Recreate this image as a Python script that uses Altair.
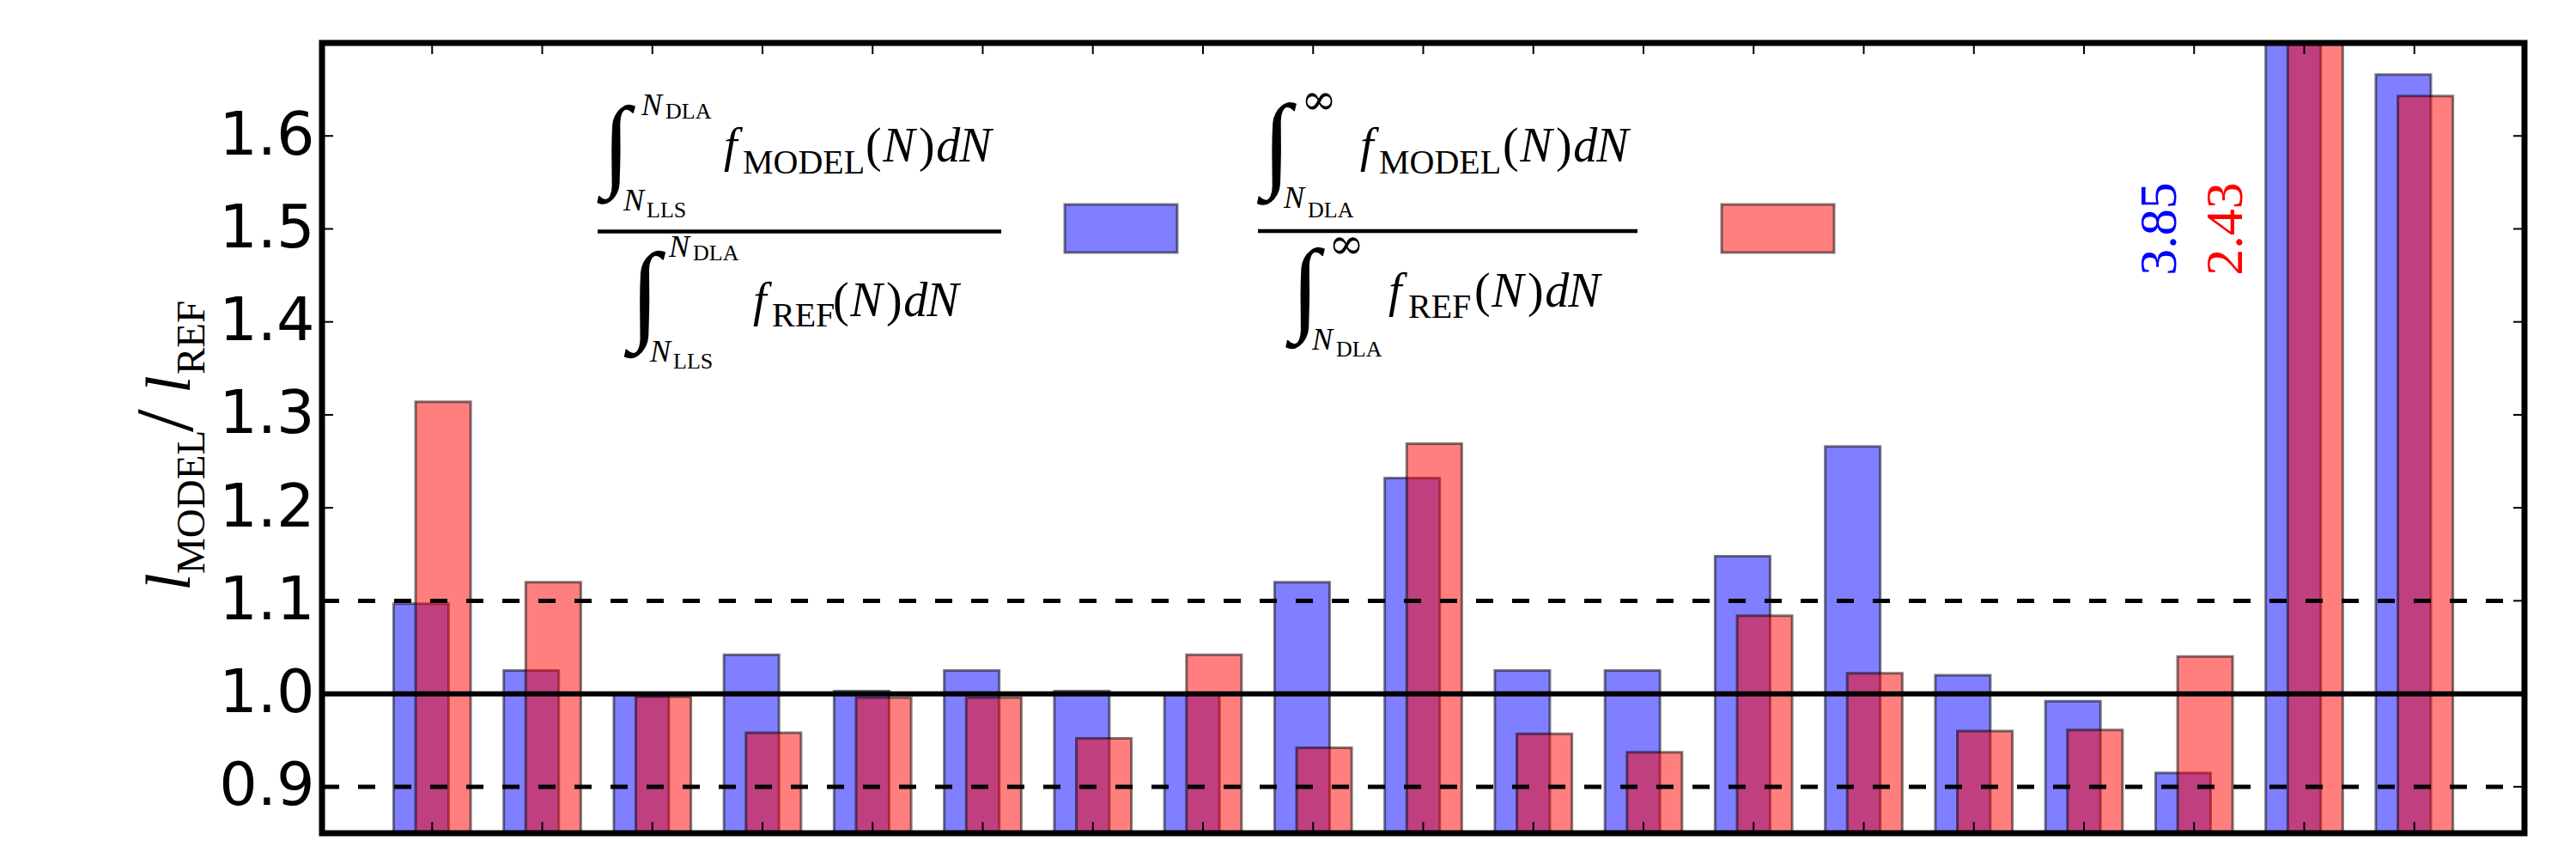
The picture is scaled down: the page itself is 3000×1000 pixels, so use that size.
import altair as alt
import pandas as pd

# ---------------- data ----------------
groups = list(range(1, 20))
# blue: int_{N_LLS}^{N_DLA} f_MODEL dN / int_{N_LLS}^{N_DLA} f_REF dN
ratio_lls_dla = [1.097, 1.025, 1.000, 1.042, 1.003, 1.025, 1.003, 1.000, 1.120, 1.232,
                 1.025, 1.025, 1.148, 1.266, 1.020, 0.992, 0.915, 3.85, 1.666]
# red: int_{N_DLA}^{inf} f_MODEL dN / int_{N_DLA}^{inf} f_REF dN
ratio_dla_inf = [1.314, 1.120, 0.997, 0.958, 0.996, 0.996, 0.952, 1.042, 0.942, 1.269,
                 0.957, 0.937, 1.084, 1.022, 0.960, 0.961, 1.040, 2.43, 1.643]
y_tick_values = [0.9, 1.0, 1.1, 1.2, 1.3, 1.4, 1.5, 1.6]
dashed_levels = [0.9, 1.1]
solid_levels = [1.0]
clipped_group = 18

# ---------------- layout ----------------
W, H = 2565, 920
OX, OY = 375, 50            # page position of the plot area's top-left corner
SERIF = "Liberation Serif"

xs = alt.Scale(domain=[0, 20], nice=False, zero=False)
ys = alt.Scale(domain=[0.85, 1.70], nice=False, zero=False)
yaxis = alt.Axis(values=y_tick_values, format=".1f", labelFont="DejaVu Sans",
                 labelFontSize=70, labelColor="black", labelPadding=9, ticks=False,
                 tickSize=0, domain=False, grid=False, title=None, labelOverlap=False,
                 labelFlush=False)

bars_df = pd.DataFrame({"g": groups, "blue": ratio_lls_dla, "red": ratio_dla_inf})

bar_style = dict(fillOpacity=0.5, stroke="black", strokeOpacity=0.5, strokeWidth=3, clip=True)

blue = alt.Chart(bars_df).mark_rect(fill="#0000ff", **bar_style).transform_calculate(
    x0="datum.g - 0.35", x1="datum.g + 0.15"
).encode(
    x=alt.X("x0:Q", scale=xs, axis=None), x2="x1:Q",
    y=alt.Y("blue:Q", scale=ys, axis=yaxis), y2=alt.value(H + 20),
)

red = alt.Chart(bars_df).mark_rect(fill="#ff0000", **bar_style).transform_calculate(
    x0="datum.g - 0.15", x1="datum.g + 0.35"
).encode(
    x=alt.X("x0:Q", scale=xs, axis=None), x2="x1:Q",
    y=alt.Y("red:Q", scale=ys, axis=None), y2=alt.value(H + 20),
)

dashed = alt.Chart(pd.DataFrame({"lvl": dashed_levels})).mark_rule(
    color="black", strokeWidth=5, strokeDash=[20, 22]
).encode(y=alt.Y("lvl:Q", scale=ys, axis=None), x=alt.value(0), x2=alt.value(W))

solid = alt.Chart(pd.DataFrame({"lvl": solid_levels})).mark_rule(
    color="black", strokeWidth=6
).encode(y=alt.Y("lvl:Q", scale=ys, axis=None), x=alt.value(0), x2=alt.value(W))

TL = 13
gx = pd.DataFrame({"g": groups})
gy = pd.DataFrame({"v": y_tick_values})
top_ticks = alt.Chart(gx).mark_rule(color="black", strokeWidth=2).encode(
    x=alt.X("g:Q", scale=xs, axis=None), y=alt.value(0), y2=alt.value(TL))
bottom_ticks = alt.Chart(gx).mark_rule(color="black", strokeWidth=2).encode(
    x=alt.X("g:Q", scale=xs, axis=None), y=alt.value(H - TL), y2=alt.value(H))
left_ticks = alt.Chart(gy).mark_rule(color="black", strokeWidth=2).encode(
    y=alt.Y("v:Q", scale=ys, axis=None), x=alt.value(0), x2=alt.value(TL))
right_ticks = alt.Chart(gy).mark_rule(color="black", strokeWidth=2).encode(
    y=alt.Y("v:Q", scale=ys, axis=None), x=alt.value(W - TL), x2=alt.value(W))

spine = alt.Chart(alt.Data(values=[{}])).mark_rect(
    fillOpacity=0, stroke="black", strokeWidth=7
).encode(x=alt.value(0), x2=alt.value(W), y=alt.value(0), y2=alt.value(H))

# values of the clipped bars, written next to them
ann_df = pd.DataFrame({
    "x": [clipped_group - 1.31, clipped_group - 0.71],
    "y": [1.5, 1.5],
    "label": [f"{ratio_lls_dla[clipped_group - 1]:.2f}", f"{ratio_dla_inf[clipped_group - 1]:.2f}"],
    "c": ["#0000ff", "#ff0000"],
})
ann = alt.Chart(ann_df).mark_text(angle=270, font=SERIF, fontSize=62, align="center",
                                  baseline="middle").encode(
    x=alt.X("x:Q", scale=xs, axis=None), y=alt.Y("y:Q", scale=ys, axis=None),
    text="label:N", color=alt.Color("c:N", scale=None))

# ---------------- math-style legend and y title built from text pieces ----------------
# advance widths (in em) of the Computer Modern glyphs of the original, used for spacing
CM = {"(": .389, ")": .389, "N": .803, "d": .52}

rows = []


def piece(text, style, fs, X, Y):
    rows.append({"t": text, "s": style, "fs": fs, "px": X - OX, "py": Y - OY})


def n_dn(X, Y, fs=56, cm=52):
    for ch, st in [("(", "normal"), ("N", "italic"), (")", "normal"), ("d", "italic"),
                   ("N", "italic")]:
        piece(ch, st, fs, X, Y)
        X += CM[ch] * cm


# fraction 1 numerator
piece("N", "italic", 36, 747, 134); piece("DLA", "normal", 26, 775, 138)
piece("N", "italic", 36, 726, 245); piece("LLS", "normal", 26, 753, 253)
piece("f", "italic", 56, 843, 188); piece("MODEL", "normal", 40, 865, 202); n_dn(1008, 188)
# fraction 1 denominator
piece("N", "italic", 36, 779, 299); piece("DLA", "normal", 26, 807, 303)
piece("N", "italic", 36, 757, 421); piece("LLS", "normal", 26, 784, 429)
piece("f", "italic", 56, 877, 368); piece("REF", "normal", 40, 899, 380); n_dn(970, 368)
# fraction 2 numerator
piece("N", "italic", 36, 1495, 242); piece("DLA", "normal", 26, 1523, 253)
piece("f", "italic", 56, 1584, 188); piece("MODEL", "normal", 40, 1606, 202); n_dn(1750, 188)
# fraction 2 denominator
piece("N", "italic", 36, 1528, 407); piece("DLA", "normal", 26, 1556, 415)
piece("f", "italic", 56, 1617, 357); piece("REF", "normal", 40, 1640, 370); n_dn(1717, 357)

pieces = pd.DataFrame(rows)

sym_rows = []


def sym(text, fs, X, Y):
    sym_rows.append({"t": text, "fs": fs, "px": X - OX, "py": Y - OY})


sym("∫", 118, 718, 171); sym("∫", 128, 751, 345)
sym("∫", 122, 1487, 169); sym("∫", 121, 1520, 338)
syms = pd.DataFrame(sym_rows)

inf_rows = [{"t": "∞", "fs": 50, "px": 1536 - OX, "py": 118 - OY},
            {"t": "∞", "fs": 50, "px": 1568 - OX, "py": 286 - OY}]
infs = pd.DataFrame(inf_rows)

title_rows = []


def tpiece(text, style, fs, X, Y):
    title_rows.append({"t": text, "s": style, "fs": fs, "px": X - OX, "py": Y - OY})


tpiece("l", "italic", 74, 221, 688)
tpiece("MODEL", "normal", 47, 238, 668)
tpiece("/", "normal", 96, 224, 503)
tpiece("l", "italic", 74, 221, 458)
tpiece("REF", "normal", 47, 238, 436)
title_df = pd.DataFrame(title_rows)

PX = alt.X("px:Q", scale=None, axis=None)
PY = alt.Y("py:Q", scale=None, axis=None)
FS = alt.Size("fs:Q", scale=None, legend=None)


def text_layer(df, style, angle=0):
    return alt.Chart(df).transform_filter(alt.datum.s == style).mark_text(
        font=SERIF, fontStyle=style, align="left", baseline="alphabetic", color="black",
        angle=angle
    ).encode(x=PX, y=PY, size=FS, text="t:N")


leg_it = text_layer(pieces, "italic")
leg_rg = text_layer(pieces, "normal")
tit_it = text_layer(title_df, "italic", 270)
tit_rg = text_layer(title_df, "normal", 270)

sym_layer = alt.Chart(syms).mark_text(font="DejaVu Sans", fontWeight=200, align="center",
                                      baseline="middle", color="black").encode(
    x=PX, y=PY, size=FS, text="t:N")
inf_layer = alt.Chart(infs).mark_text(font="DejaVu Serif", align="center",
                                      baseline="middle", color="black").encode(
    x=PX, y=PY, size=FS, text="t:N")

frac_df = pd.DataFrame({"x0": [696 - OX, 1465 - OX], "x1": [1166 - OX, 1907 - OX],
                        "y": [269.5 - OY, 269 - OY]})
frac = alt.Chart(frac_df).mark_rule(color="black", strokeWidth=4.5).encode(
    x=alt.X("x0:Q", scale=None, axis=None), x2="x1:Q", y=alt.Y("y:Q", scale=None, axis=None))

patch_df = pd.DataFrame({"x0": [1240 - OX, 2005 - OX], "x1": [1371 - OX, 2136 - OX],
                         "y0": [238 - OY, 238 - OY], "y1": [294 - OY, 294 - OY],
                         "c": ["#0000ff", "#ff0000"]})
patches = alt.Chart(patch_df).mark_rect(fillOpacity=0.5, stroke="black", strokeOpacity=0.5,
                                        strokeWidth=3).encode(
    x=alt.X("x0:Q", scale=None, axis=None), x2="x1:Q",
    y=alt.Y("y0:Q", scale=None, axis=None), y2="y1:Q",
    fill=alt.Fill("c:N", scale=None))

chart = alt.layer(
    blue, red, dashed, solid, top_ticks, bottom_ticks, left_ticks, right_ticks, spine,
    ann, leg_it, leg_rg, sym_layer, inf_layer, frac, patches, tit_it, tit_rg
).resolve_scale(x="independent", y="independent", size="independent",
                color="independent", fill="independent").properties(
    width=W, height=H,
    autosize=alt.AutoSizeParams(type="none"),
    padding={"left": OX - 8, "top": OY - 8, "right": 3000 - 16 - (OX - 8) - W,
             "bottom": 1000 - 16 - (OY - 8) - H},
    background="white",
).configure_view(stroke=None)

chart.save("out.html", embed_options={"renderer": "svg", "actions": False})
